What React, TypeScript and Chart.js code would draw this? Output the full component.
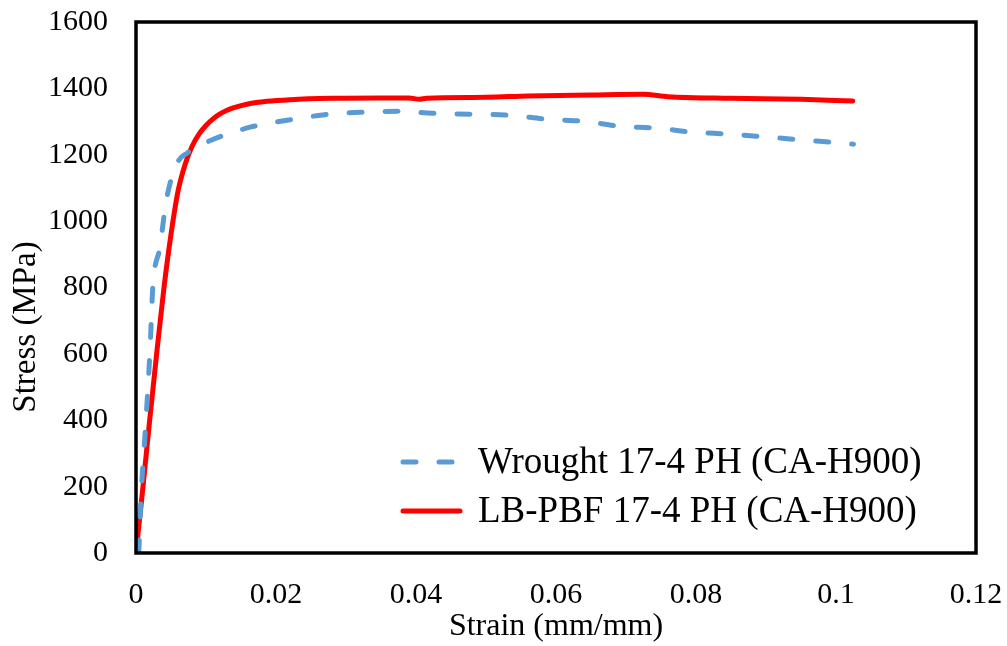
import React, { useEffect, useRef } from "react";
import { Chart, registerables } from "chart.js";

Chart.register(...registerables);

const wroughtStrain = [0.0004, 0.0008, 0.0013, 0.002, 0.0024, 0.0034, 0.0044, 0.0059, 0.0073, 0.0101, 0.0163, 0.0216, 0.0267, 0.032, 0.0373, 0.0424, 0.048, 0.0534, 0.0587, 0.0639, 0.0691, 0.0744, 0.0796, 0.0849, 0.0903, 0.0956, 0.1009, 0.1025];
const wroughtStress = [0, 200, 360, 610, 800, 920, 1070, 1175, 1205, 1238, 1283, 1304, 1320, 1328, 1331, 1325, 1322, 1319, 1307, 1301, 1286, 1280, 1268, 1262, 1253, 1244, 1235, 1232];

const lbpbfStrain = [0, 0.001, 0.002, 0.003, 0.004, 0.005, 0.006, 0.007, 0.008, 0.009, 0.01, 0.011, 0.012, 0.013, 0.014, 0.016, 0.0187, 0.022, 0.028, 0.035, 0.039, 0.0405, 0.0415, 0.05, 0.056, 0.065, 0.0724, 0.076, 0.085, 0.095, 0.1024];
const lbpbfStress = [0, 200, 410, 610, 800, 960, 1090, 1170, 1225, 1262, 1288, 1308, 1323, 1334, 1342, 1353, 1361, 1366, 1370, 1371, 1371, 1367, 1370, 1373, 1377, 1380, 1382, 1375, 1370, 1367, 1362];

const xTickLabels = ["0", "0.02", "0.04", "0.06", "0.08", "0.1", "0.12"];
const yTickLabels = ["0", "200", "400", "600", "800", "1000", "1200", "1400", "1600"];

const seriesLabels = ["Wrought 17-4 PH (CA-H900)", "LB-PBF 17-4 PH (CA-H900)"];
const xTitle = "Strain (mm/mm)";
const yTitle = "Stress (MPa)";

const FONT = "'Liberation Serif', 'Times New Roman', serif";

export default function App() {
  const ref = useRef<HTMLCanvasElement>(null);

  useEffect(() => {
    document.body.style.margin = "0";
    const canvas = ref.current;
    if (!canvas) return;

    const borderPlugin = {
      id: "plotBorder",
      afterDatasetsDraw(chart: any) {
        const { ctx, chartArea: a } = chart;
        ctx.save();
        ctx.strokeStyle = "#000";
        ctx.lineWidth = 3.5;
        ctx.strokeRect(a.left, a.top, a.right - a.left, a.bottom - a.top);
        ctx.restore();
      },
    };

    const yTitlePlugin = {
      id: "yTitle",
      afterDraw(chart: any) {
        const { ctx } = chart;
        ctx.save();
        ctx.translate(26, 327);
        ctx.rotate(-Math.PI / 2);
        ctx.font = `33px ${FONT}`;
        ctx.fillStyle = "#000";
        ctx.textAlign = "center";
        ctx.textBaseline = "middle";
        ctx.fillText(yTitle, 0, 0);
        ctx.restore();
      },
    };

    const legendPlugin = {
      id: "insideLegend",
      afterDraw(chart: any) {
        const { ctx } = chart;
        const rows = [
          { y: 462, ds: chart.data.datasets[0] },
          { y: 511, ds: chart.data.datasets[1] },
        ];
        ctx.save();
        rows.forEach((r) => {
          ctx.beginPath();
          ctx.strokeStyle = r.ds.borderColor;
          ctx.lineWidth = r.ds.borderWidth;
          ctx.lineCap = "round";
          ctx.setLineDash(r.ds.borderDash || []);
          ctx.moveTo(403, r.y);
          ctx.lineTo(460, r.y);
          ctx.stroke();
          ctx.setLineDash([]);
          ctx.font = `37px ${FONT}`;
          ctx.fillStyle = "#000";
          ctx.textAlign = "left";
          ctx.textBaseline = "middle";
          ctx.fillText(r.ds.label, 478, r.y + 1);
        });
        ctx.restore();
      },
    };

    const chart = new Chart(canvas, {
      type: "line",
      data: {
        datasets: [
          {
            label: seriesLabels[0],
            data: wroughtStrain.map((x, i) => ({ x, y: wroughtStress[i] })),
            borderColor: "#5B9BD5",
            borderWidth: 5,
            borderDash: [13, 23],
            borderCapStyle: "round",
            pointRadius: 0,
            cubicInterpolationMode: "monotone",
            fill: false,
          },
          {
            label: seriesLabels[1],
            data: lbpbfStrain.map((x, i) => ({ x, y: lbpbfStress[i] })),
            borderColor: "#FF0000",
            borderWidth: 5,
            borderCapStyle: "round",
            pointRadius: 0,
            cubicInterpolationMode: "monotone",
            fill: false,
          },
        ],
      },
      options: {
        responsive: false,
        devicePixelRatio: 1,
        animation: false,
        layout: { padding: { top: 22, right: 31, left: 0, bottom: 0 } },
        plugins: { legend: { display: false }, tooltip: { enabled: false } },
        scales: {
          x: {
            type: "linear",
            min: 0,
            max: 0.12,
            afterFit: (s: any) => {
              s.height = 93;
              s.paddingLeft = 0;
              s.paddingRight = 0;
            },
            grid: { display: false, drawTicks: false },
            border: { display: false },
            ticks: {
              stepSize: 0.02,
              padding: 24,
              color: "#000",
              font: { family: FONT, size: 30 },
              callback: (_v: any, i: number) => xTickLabels[i],
              maxRotation: 0,
            },
            title: {
              display: true,
              text: xTitle,
              color: "#000",
              font: { family: FONT, size: 32 },
              padding: { top: 0, bottom: 0 },
            },
          },
          y: {
            type: "linear",
            min: 0,
            max: 1600,
            afterFit: (s: any) => {
              s.width = 136;
              s.paddingTop = 0;
              s.paddingBottom = 0;
            },
            grid: { display: false, drawTicks: false },
            border: { display: false },
            ticks: {
              stepSize: 200,
              padding: 28,
              color: "#000",
              font: { family: FONT, size: 30 },
              callback: (_v: any, i: number) => yTickLabels[i],
            },
          },
        },
      },
      plugins: [borderPlugin, yTitlePlugin, legendPlugin],
    } as any);

    return () => chart.destroy();
  }, []);

  return (
    <div style={{ position: "absolute", left: 0, top: 0, width: 1007, height: 646, background: "#fff" }}>
      <canvas ref={ref} width={1007} height={646} />
    </div>
  );
}
